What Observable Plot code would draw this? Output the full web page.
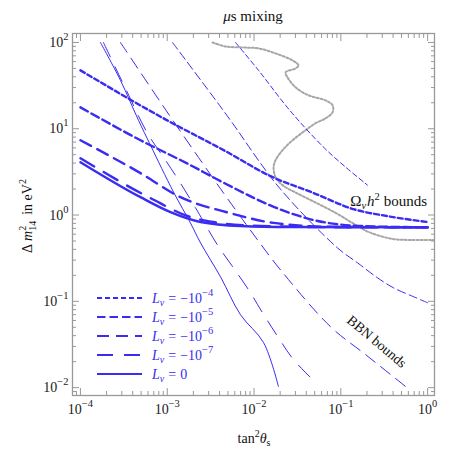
<!DOCTYPE html>
<html>
<head>
<meta charset="utf-8">
<script src="https://cdn.jsdelivr.net/npm/d3@7"></script>
<script src="https://cdn.jsdelivr.net/npm/@observablehq/plot@0.6"></script>
<style>
  body { margin: 0; background: #fff; }
  svg { display: block; }
</style>
</head>
<body>
<div id="chart"></div>
<script>
// ---------------- DATA ----------------
// Lepton asymmetry values: L_nu = -10^exp  (null => L_nu = 0)
const Lexp = [-4, -5, -6, -7, null];

// Omega_nu h^2 bounds (thick curves)
const omegaX_m4 = [1e-4, 1.0e-3, 4.69e-3, 0.0155, 0.0485, 0.140, 0.346, 1.0];
const omegaY_m4 = [47.5, 12.5, 5.50, 2.82, 1.80, 1.17, 0.97, 0.83];
const omegaX_m5 = [1e-4, 4.92e-4, 1.85e-3, 4.11e-3, 0.0243, 0.0485, 0.169, 1.0];
const omegaY_m5 = [17.7, 7.36, 3.79, 2.47, 1.08, 0.875, 0.746, 0.72];
const omegaX_m6 = [1e-4, 4.92e-4, 1.42e-3, 5.36e-3, 0.0168, 0.0762, 1.0];
const omegaY_m6 = [7.36, 3.06, 1.61, 1.05, 0.81, 0.73, 0.72];
const omegaX_m7 = [1e-4, 6.41e-4, 1.85e-3, 3.41e-3, 0.0119, 0.1, 1.0];
const omegaY_m7 = [4.56, 1.57, 0.948, 0.83, 0.746, 0.722, 0.72];
const omegaX_0  = [1e-4, 4.92e-4, 1.09e-3, 2.42e-3, 6.99e-3, 0.0264, 1.0];
const omegaY_0  = [4.10, 1.61, 1.08, 0.83, 0.746, 0.726, 0.72];

// BBN bounds (thin curves)
const bbnX_m4 = [6.12e-3, 0.01127, 0.0231, 0.0393, 0.0667, 0.1135, 0.203];
const bbnY_m4 = [100, 47.5, 18.7, 10.1, 5.80, 3.59, 2.22];
const bbnX_m5 = [1.15e-3, 4.00e-3, 5.65e-3, 0.0197, 0.0918, 0.156, 0.265, 0.406, 0.690, 1.0];
const bbnY_m5 = [100, 18.7, 11.6, 2.05, 0.415, 0.279, 0.187, 0.143, 0.113, 0.0962];
const bbnX_m6 = [2.89e-4, 1.06e-3, 4.45e-3, 0.0110, 0.0202, 0.0762, 0.193, 0.557];
const bbnY_m6 = [100, 14.3, 1.80, 0.514, 0.231, 0.0507, 0.0241, 0.0103];
const bbnX_m7 = [1.84e-4, 3.30e-4, 5.92e-4, 9.55e-4, 1.42e-3, 2.12e-3, 3.79e-3, 5.80e-3, 8.65e-3, 0.01254, 0.0191, 0.0285, 0.0448];
const bbnY_m7 = [100, 29.4, 8.87, 4.32, 2.34, 1.21, 0.450, 0.244, 0.136, 0.0736, 0.0379, 0.0211, 0.0131];
const bbnX_0  = [1.70e-4, 2.89e-4, 4.67e-4, 6.41e-4, 1.18e-3, 1.85e-3, 2.42e-3, 4.11e-3, 6.99e-3, 0.0129, 0.0191];
const bbnY_0  = [100, 36.4, 12.5, 6.44, 1.85, 0.81, 0.475, 0.192, 0.0698, 0.0331, 0.0103];

// Gray dotted boundary
const grayX = [3.33e-3, 4.69e-3, 7.36e-3, 0.01127, 0.0177, 0.0278, 0.0326, 0.0301, 0.0231, 0.0243, 0.0301, 0.0425, 0.0667, 0.0803, 0.0803, 0.0667, 0.0512, 0.0393, 0.0278, 0.0213, 0.0177, 0.0168, 0.0177, 0.0213, 0.0309, 0.0555, 0.0918, 0.136, 0.209, 0.395, 0.637, 1.2];
const grayY = [100, 89.9, 87.5, 85.3, 74.7, 61.9, 54.2, 50.0, 45.0, 39.4, 30.2, 24.4, 21.3, 18.7, 15.5, 13.2, 11.6, 9.62, 7.36, 5.64, 4.32, 3.59, 2.75, 2.22, 1.80, 1.34, 1.03, 0.809, 0.636, 0.528, 0.514, 0.514];

// Axis ticks
const xTickValues = [1e-4, 1e-3, 1e-2, 1e-1, 1];
const xTickLabels = ["10^−4", "10^−3", "10^−2", "10^−1", "10^0"];
const yTickValues = [0.01, 0.1, 1, 10, 100];
const yTickLabels = ["10^−2", "10^−1", "10^0", "10^1", "10^2"];

// Annotations (data coordinates)
const annX = [0.13, 0.265];
const annY = [1.27, 0.034];
const annRotate = [0, 40];

// ---------------- STYLE ----------------
const FONT = "'Liberation Serif', 'Times New Roman', serif";
const BLUE = "#3a2cf0";
const GRAY = "#a6a6a6";
const FRAME = "#999999";
const dashes = ["5,3", "8.5,4", "12,7", "16,11", null];
const W = 450, H = 450, ML = 72, MR = 16, MT = 33, MB = 55;

const zip = (xs, ys) => xs.map((x, i) => ({x, y: ys[i]}));
const omegaXs = [omegaX_m4, omegaX_m5, omegaX_m6, omegaX_m7, omegaX_0];
const omegaYs = [omegaY_m4, omegaY_m5, omegaY_m6, omegaY_m7, omegaY_0];
const bbnXs = [bbnX_m4, bbnX_m5, bbnX_m6, bbnX_m7, bbnX_0];
const bbnYs = [bbnY_m4, bbnY_m5, bbnY_m6, bbnY_m7, bbnY_0];

function minorTicks(lo, hi) {
  const t = [];
  for (let e = Math.floor(Math.log10(lo)) - 1; e <= Math.ceil(Math.log10(hi)); e++)
    for (let m = 2; m <= 9; m++) {
      const v = +(m * Math.pow(10, e)).toPrecision(6);
      if (v >= lo && v <= hi) t.push(v);
    }
  return t;
}
const xDomain = [8.1e-5, 1.2], yDomain = [0.0081, 127];
const xMinor = minorTicks(...xDomain), yMinor = minorTicks(...yDomain);

const marks = [];
marks.push(Plot.line(zip(grayX, grayY), {x: "x", y: "y", stroke: GRAY, strokeWidth: 2, strokeDasharray: "2,2", curve: "catmull-rom", clip: true}));
for (let i = 0; i < Lexp.length; i++) {
  marks.push(Plot.line(zip(bbnXs[i], bbnYs[i]), {x: "x", y: "y", stroke: BLUE, strokeWidth: 1, strokeDasharray: dashes[i], curve: "catmull-rom", clip: true}));
  marks.push(Plot.line(zip(omegaXs[i], omegaYs[i]), {x: "x", y: "y", stroke: BLUE, strokeWidth: 2.4, strokeDasharray: dashes[i], curve: "monotone-x", clip: true}));
}
marks.push(Plot.frame({stroke: FRAME, strokeWidth: 1.3}));
for (const anchor of ["bottom", "top"]) {
  marks.push(Plot.axisX(xTickValues, {anchor, tickSize: -7, tickFormat: () => "", label: null, stroke: FRAME}));
  marks.push(Plot.axisX(xMinor, {anchor, tickSize: -4, tickFormat: () => "", label: null, stroke: FRAME}));
}
for (const anchor of ["left", "right"]) {
  marks.push(Plot.axisY(yTickValues, {anchor, tickSize: -7, tickFormat: () => "", label: null, stroke: FRAME}));
  marks.push(Plot.axisY(yMinor, {anchor, tickSize: -4, tickFormat: () => "", label: null, stroke: FRAME}));
}
marks.push(Plot.axisX(xTickValues, {anchor: "bottom", tickSize: 0, tickPadding: 9, label: null, fill: "#1a1a1a",
  tickFormat: d => xTickLabels[xTickValues.indexOf(d)]}));
marks.push(Plot.axisY(yTickValues, {anchor: "left", tickSize: 0, tickPadding: 4, label: null, fill: "#1a1a1a",
  tickFormat: d => yTickLabels[yTickValues.indexOf(d)]}));

const plot = Plot.plot({
  width: W, height: H,
  marginLeft: ML, marginRight: MR, marginTop: MT, marginBottom: MB,
  x: {type: "log", domain: xDomain},
  y: {type: "log", domain: yDomain},
  style: {fontFamily: FONT, fontSize: "14px", background: "white"},
  marks
});
document.getElementById("chart").appendChild(plot);

// superscripts for tick labels
const svg = d3.select(plot);
svg.selectAll("text").each(function () {
  const m = this.textContent.match(/^10\^(.+)$/);
  if (!m) return;
  this.textContent = "10";
  d3.select(this).append("tspan").attr("dy", -7).attr("font-size", 10.5).text(m[1]);
});

const sx = plot.scale("x"), sy = plot.scale("y");
const g = svg.append("g").attr("font-family", FONT).attr("font-size", 14).attr("fill", "#111")
  .attr("text-anchor", "start").style("white-space", "pre");
const cx = (ML + W - MR) / 2;

// title
g.append("text").attr("x", cx).attr("y", 21).attr("text-anchor", "middle").attr("font-size", 15)
  .html('<tspan font-style="italic">μ</tspan>s mixing');
// x label
g.append("text").attr("x", cx + 1).attr("y", 443).attr("text-anchor", "middle")
  .html('tan<tspan font-size="10" dy="-6">2</tspan><tspan font-style="italic" dy="6">θ</tspan><tspan font-size="10" dy="3">s</tspan>');
// y label
g.append("text").attr("transform", `translate(32,${(MT + H - MB) / 2 + 2}) rotate(-90)`).attr("text-anchor", "middle")
  .html('Δ<tspan font-style="italic" dx="3">m</tspan><tspan font-size="10" dy="-6">2</tspan><tspan font-size="10" dx="-5" dy="9.5">14</tspan><tspan dx="6" dy="-3.5">in eV</tspan><tspan font-size="10" dy="-6">2</tspan>');

// annotations
g.append("text").attr("x", sx.apply(annX[0])).attr("y", sy.apply(annY[0])).attr("font-size", 15)
  .html('Ω<tspan font-size="10.5" font-style="italic" dy="3">ν</tspan><tspan font-style="italic" dx="1" dy="-3">h</tspan><tspan font-size="10.5" dy="-6">2</tspan><tspan dx="4" dy="6">bounds</tspan>');
g.append("text").attr("transform", `translate(${sx.apply(annX[1])},${sy.apply(annY[1])}) rotate(${annRotate[1]})`)
  .attr("text-anchor", "middle").attr("dy", "0.35em").text("BBN bounds");

// legend
const lg = svg.append("g").attr("font-family", FONT).attr("font-size", 14).attr("text-anchor", "start");
Lexp.forEach((e, i) => {
  const y = 298 + i * 19;
  lg.append("line").attr("x1", 97).attr("x2", 142).attr("y1", y).attr("y2", y)
    .attr("stroke", BLUE).attr("stroke-width", 2).attr("stroke-dasharray", dashes[i]);
  const value = e === null ? '<tspan dx="4" dy="-3">=</tspan><tspan dx="4">0</tspan>'
    : `<tspan dx="4" dy="-3">=</tspan><tspan dx="4">−10</tspan><tspan font-size="10.5" dy="-7">−${-e}</tspan>`;
  lg.append("text").attr("x", 152).attr("y", y + 5).attr("fill", BLUE)
    .html(`<tspan font-style="italic">L</tspan><tspan font-style="italic" font-size="10" dy="3">ν</tspan>${value}`);
});
</script>
</body>
</html>
